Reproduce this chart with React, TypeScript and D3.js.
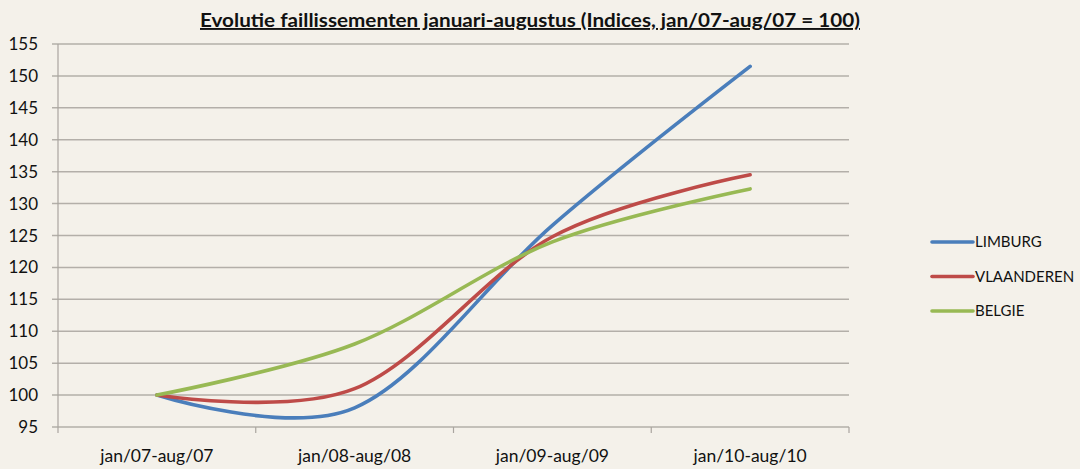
import React from "react";
import * as d3 from "d3";

const categories = ["jan/07-aug/07", "jan/08-aug/08", "jan/09-aug/09", "jan/10-aug/10"];
const limburg = [100, 98.0, 126.6, 151.5];
const vlaanderen = [100, 101.0, 124.8, 134.5];
const belgie = [100, 108.0, 124.0, 132.3];
const seriesNames = ["LIMBURG", "VLAANDEREN", "BELGIE"];
const seriesColors = ["#4a7ebb", "#be4b48", "#98b954"];
const yTicks = [95, 100, 105, 110, 115, 120, 125, 130, 135, 140, 145, 150, 155];
const title = "Evolutie faillissementen januari-augustus (Indices, jan/07-aug/07 = 100)";

export default function App() {
  const W = 1080, H = 469;
  const left = 58, right = 849, top = 44, bottom = 427;
  const x = d3.scaleBand().domain(categories).range([left, right]);
  const y = d3.scaleLinear().domain([95, 155]).range([bottom, top]);
  const font = "Lato, 'Open Sans', sans-serif";
  const allSeries = [limburg, vlaanderen, belgie];
  const line = d3
    .line<number>()
    .x((_, i) => (x(categories[i]) as number) + x.bandwidth() / 2)
    .y((d) => y(d))
    .curve(d3.curveCardinal.tension(0));
  const bounds = [...categories.map((c) => x(c) as number), right];
  return (
    <svg width={W} height={H} style={{ position: "absolute", left: 0, top: 0, background: "#f4f1ea" }}>
      <rect width={W} height={H} fill="#f4f1ea" />
      <text x={530} y={27} textAnchor="middle" fontFamily={font} fontWeight="bold" fontSize={19} fill="#111" textDecoration="underline" textLength={660} lengthAdjust="spacingAndGlyphs">
        {title}
      </text>
      {yTicks.map((t) => (
        <g key={t}>
          <line x1={52} x2={right} y1={y(t)} y2={y(t)} stroke="#b3afa9" strokeWidth={1.5} />
          <text x={38} y={y(t) + 6} textAnchor="end" fontFamily={font} fontSize={17} fill="#111">
            {t}
          </text>
        </g>
      ))}
      <line x1={left} x2={left} y1={top} y2={bottom} stroke="#a9a59f" strokeWidth={1.2} />
      {bounds.map((b, i) => (
        <line key={i} x1={b} x2={b} y1={bottom} y2={bottom + 6} stroke="#a9a59f" strokeWidth={1.2} />
      ))}
      {categories.map((c) => (
        <text key={c} x={(x(c) as number) + x.bandwidth() / 2} y={462} textAnchor="middle" fontFamily={font} fontSize={17.5} fill="#111">
          {c}
        </text>
      ))}
      {allSeries.map((s, i) => (
        <path key={i} d={line(s) || ""} fill="none" stroke={seriesColors[i]} strokeWidth={3.6} strokeLinecap="round" />
      ))}
      {seriesNames.map((n, i) => (
        <g key={n}>
          <line x1={932} x2={973} y1={242 + i * 34.5} y2={242 + i * 34.5} stroke={seriesColors[i]} strokeWidth={3.6} strokeLinecap="round" />
          <text x={975} y={247 + i * 34.5} fontFamily={font} fontSize={15} fill="#111">
            {n}
          </text>
        </g>
      ))}
    </svg>
  );
}
